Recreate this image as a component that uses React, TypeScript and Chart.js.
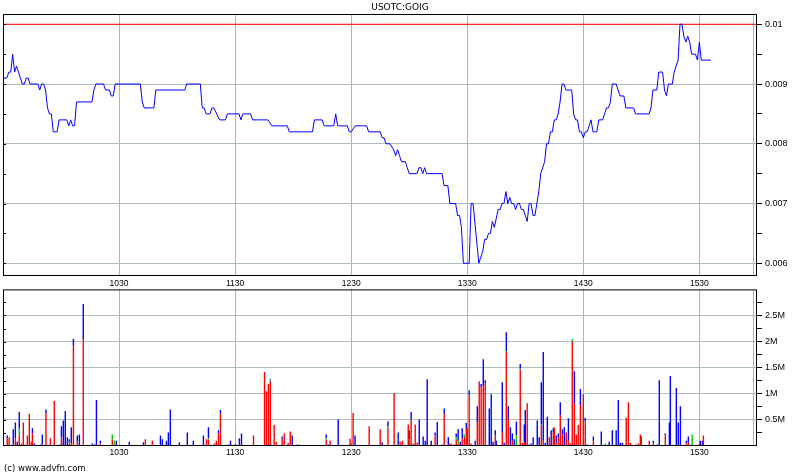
import React, { useEffect, useRef } from "react";
import { Chart, registerables } from "chart.js";

Chart.register(...registerables);

const TITLE = "USOTC:GOIG";
const COPYRIGHT = "(c) www.advfn.com";

// time axis: minutes after 09:30
const sessionEnd = 389.8;
const closeMinute = 388.2;
const timeTicks = [60, 120, 180, 240, 300, 360];
const timeLabels = ["1030", "1130", "1230", "1330", "1430", "1530"];

// price series (minutes after 09:30, price)
const priceTimes = [
  0, 2, 3, 4, 5, 6, 7, 8, 10, 11, 12, 13, 14, 18, 19, 20, 21, 22, 23, 24, 25, 26, 28, 29, 33, 34, 35, 36, 37, 38,
  46, 47, 48, 52, 53, 55, 56, 57, 58, 71, 72, 73, 78, 79, 94, 95, 102, 103, 104, 105, 107, 108, 109, 112, 115, 116,
  122, 123, 124, 128, 129, 137, 139, 147, 148, 160, 161, 165, 166, 171, 172, 173, 178, 179, 180, 182, 188, 189, 195,
  196, 197, 198, 200, 202, 203, 204, 205, 206, 208, 209, 210, 214, 215, 216, 217, 218, 219, 227, 228, 230, 231, 234,
  235, 236, 237, 238, 241, 242, 243, 246, 248, 249, 250, 251, 252, 253, 254, 256, 257, 258, 259, 260, 261, 262, 263,
  264, 265, 266, 267, 268, 269, 271, 272, 273, 274, 275, 276, 277, 278, 280, 281, 282, 283, 284, 285, 286, 287, 288,
  289, 290, 291, 294, 295, 296, 297, 298, 299, 300, 301, 302, 303, 304, 305, 307, 308, 310, 312, 313, 314, 315, 317,
  318, 319, 321, 322, 326, 327, 334, 335, 336, 338, 339, 341, 342, 343, 344, 346, 347, 349, 350, 351, 352, 353, 354,
  355, 356, 358, 359, 360, 361, 366,
];
const priceValues = [
  0.0091, 0.0091, 0.0092, 0.0092, 0.0095, 0.0092, 0.0093, 0.0092, 0.009, 0.009, 0.0091, 0.0091, 0.009, 0.009, 0.0089,
  0.009, 0.009, 0.0089, 0.0086, 0.0085, 0.0085, 0.0082, 0.0082, 0.0084, 0.0084, 0.0083, 0.0084, 0.0083, 0.0083, 0.0087,
  0.0087, 0.0089, 0.009, 0.009, 0.0089, 0.0089, 0.0088, 0.0088, 0.009, 0.009, 0.0087, 0.0086, 0.0086, 0.0089, 0.0089,
  0.009, 0.009, 0.0086, 0.0086, 0.0085, 0.0085, 0.0086, 0.0086, 0.0084, 0.0084, 0.0085, 0.0085, 0.0084, 0.0085, 0.0085,
  0.0084, 0.0084, 0.0083, 0.0083, 0.0082, 0.0082, 0.0084, 0.0084, 0.0083, 0.0083, 0.0085, 0.0083, 0.0083, 0.0082,
  0.0082, 0.0083, 0.0083, 0.0082, 0.0082, 0.0081, 0.0081, 0.008, 0.008, 0.0079, 0.0078, 0.0079, 0.0078, 0.0077, 0.0077,
  0.0076, 0.0075, 0.0075, 0.0076, 0.0076, 0.0075, 0.0076, 0.0075, 0.0075, 0.0073, 0.0073, 0.007, 0.007, 0.0068, 0.0068,
  0.0066, 0.006, 0.006, 0.007, 0.007, 0.006, 0.0062, 0.0064, 0.0064, 0.0065, 0.0065, 0.0067, 0.0066, 0.0069, 0.0069,
  0.007, 0.007, 0.0072, 0.007, 0.0071, 0.007, 0.007, 0.0069, 0.007, 0.007, 0.0069, 0.0069, 0.0067, 0.007, 0.007, 0.0068,
  0.0068, 0.007, 0.0072, 0.0075, 0.0077, 0.008, 0.008, 0.0082, 0.0082, 0.0084, 0.0084, 0.0085, 0.0087, 0.009, 0.009,
  0.0089, 0.0089, 0.0085, 0.0084, 0.0084, 0.0082, 0.0082, 0.0081, 0.0082, 0.0082, 0.0083, 0.0084, 0.0082, 0.0082,
  0.0084, 0.0084, 0.0086, 0.0086, 0.0087, 0.009, 0.009, 0.0089, 0.0088, 0.0088, 0.0086, 0.0086, 0.0085, 0.0085, 0.0086,
  0.0089, 0.0089, 0.0092, 0.0092, 0.0089, 0.0088, 0.009, 0.009, 0.0092, 0.0094, 0.01, 0.01, 0.0098, 0.0097, 0.0098,
  0.0097, 0.0095, 0.0095, 0.0094, 0.0097, 0.0094, 0.0094,
];
const referencePrice = 0.01;

const priceMin = 0.005787;
const priceMax = 0.010172;
const priceMajorTicks = [0.006, 0.007, 0.008, 0.009, 0.01];
const priceMinorTicks = [0.0065, 0.0075, 0.0085, 0.0095];
const priceLabels = ["0.006", "0.007", "0.008", "0.009", "0.01"];

// volume bars (minutes after 09:30, millions of shares per colour)
const volTimes = [
  0, 2.2, 3.2, 5.3, 6.4, 7.4, 8.4, 9.5, 10.5, 11.5, 12.6, 13.6, 14.6, 15.2, 16.2, 19.3, 20.3, 22.2, 24.5, 26.5, 29.6,
  30.2, 31.2, 32.2, 33.3, 34.3, 35.3, 36.4, 38.4, 39.5, 41.5, 46.2, 47.2, 48.3, 50.3, 56.5, 57.6, 58.6, 65.3, 72.6,
  73.6, 77.2, 81.4, 82.4, 84.5, 85.5, 86.5, 91.2, 95.3, 98.4, 103.6, 105.2, 106.2, 109.3, 110.3, 111.4, 112.4, 116.5,
  117.6, 120.2, 122.2, 123.3, 129.5, 135.2, 136.2, 137.2, 138.2, 140.2, 141.2, 144.3, 145.4, 147.4, 148.5, 149.5,
  152.1, 153.1, 167.1, 168.1, 169.1, 173.3, 179.4, 179.9, 181.0, 182.0, 189.3, 195.0, 196.0, 199.0, 202.2, 203.3,
  204.3, 205.3, 206.4, 209.5, 210.0, 211.0, 212.1, 213.1, 214.1, 215.2, 217.2, 218.3, 219.3, 221.4, 223.4, 224.5,
  227.1, 228.1, 230.2, 230.7, 231.7, 233.3, 234.3, 235.3, 236.4, 237.4, 238.5, 239.5, 240.0, 241.0, 242.0, 244.1,
  245.2, 246.2, 247.2, 248.3, 249.3, 251.4, 252.4, 253.4, 254.5, 255.0, 258.1, 259.1, 260.2, 261.2, 262.3, 263.3,
  264.3, 265.4, 267.4, 268.5, 269.5, 270.0, 271.0, 272.0, 273.0, 274.1, 276.2, 277.2, 278.3, 279.3, 280.3, 281.4,
  282.4, 283.4, 284.5, 285.0, 286.0, 287.1, 288.1, 289.2, 290.2, 291.2, 292.3, 293.3, 294.3, 295.4, 296.4, 297.4,
  298.5, 300.0, 301.0, 302.0, 305.2, 309.3, 311.4, 313.4, 315.0, 317.0, 318.1, 319.1, 320.2, 322.2, 323.3, 324.3,
  327.4, 328.5, 329.5, 330.0, 334.1, 336.2, 338.3, 339.3, 342.4, 344.5, 345.0, 348.1, 349.1, 350.2, 353.3, 354.3,
  356.3, 360.0, 360.5, 361.6, 362.1,
];
const volRed = [
  0.12, 0.15, 0.17, 0, 0.15, 0, 0.2, 0.05, 0.45, 0.03, 0.2, 0.62, 0.08, 0.24, 0, 0, 0.04, 0.63, 0.15, 0.86, 0,
  0.17, 0, 0, 0, 0.05, 0.05, 1.92, 0.09, 0, 2.05, 0, 0, 0, 0.05, 0.12, 0, 0, 0, 0.02,
  0.13, 0.1, 0, 0, 0, 0, 0, 0.02, 0, 0, 0, 0.13, 0.12, 0.05, 0.1, 0.24, 0.62, 0,
  0, 0, 0, 0, 0.2, 1.42, 1.05, 1.19, 1.24, 0.4, 0.08, 0.14, 0.24, 0.06, 0.28, 0,
  0.03, 0.03, 0.12, 0, 0.1, 0, 0.14, 0.05, 0.63, 0, 0.38, 0.32, 0, 0.35, 1.01, 0.02,
  0.03, 0.08, 0.1, 0.41, 0.1, 0.51, 0.05, 0.41, 0.07, 0, 0, 0, 0, 0, 0.2, 0,
  0, 0.62, 0, 0.05, 0.05, 0.03, 0.12, 0.04, 0, 0.14, 0.17, 0.32, 0.34, 0.97, 0.05, 0,
  0.45, 1.24, 1.12, 1.14, 1.2, 0, 0, 0, 0.2, 0, 0.26, 0, 1.8, 0.51, 0, 0.1,
  0, 0, 1.46, 0.06, 0.07, 0, 0.82, 0, 0, 0, 0, 0, 0.4, 0.1, 0, 0,
  0.17, 0, 0.26, 0.36, 0.05, 0.17, 0.59, 0.22, 0, 0.26, 0.1, 0.05, 2.0, 0.82, 0.22, 0.4,
  0.78, 0.99, 0.47, 0, 0.1, 0, 0, 0, 0, 0, 0, 0, 0, 0.54, 0.84, 0.06,
  0.03, 0.05, 0.22, 0.18, 0.1, 0.05, 0, 0, 0.2, 0, 0, 0, 0, 0, 0.05, 0.06,
  0, 0.05, 0, 0, 0.2,
];
const volGreen = [
  0, 0, 0, 0, 0, 0, 0.13, 0, 0, 0, 0, 0, 0, 0, 0, 0, 0, 0, 0, 0, 0,
  0, 0, 0, 0, 0.03, 0, 0, 0, 0, 0, 0, 0, 0, 0, 0.1, 0.1, 0, 0, 0,
  0, 0, 0, 0, 0, 0, 0, 0, 0, 0, 0, 0, 0.03, 0, 0, 0, 0, 0,
  0, 0, 0, 0, 0, 0, 0, 0, 0.02, 0, 0, 0, 0, 0, 0, 0,
  0, 0, 0.03, 0, 0, 0, 0, 0, 0, 0, 0, 0, 0, 0.02, 0, 0.01,
  0, 0, 0, 0, 0.03, 0, 0, 0, 0, 0, 0, 0, 0, 0, 0, 0,
  0, 0, 0, 0, 0, 0, 0.05, 0.06, 0, 0, 0.05, 0, 0, 0, 0, 0,
  0, 0, 0, 0, 0, 0, 0, 0, 0, 0, 0, 0, 0.02, 0, 0, 0,
  0, 0.2, 0.02, 0, 0, 0, 0, 0, 0, 0, 0, 0, 0.02, 0, 0, 0,
  0, 0, 0, 0, 0, 0, 0, 0, 0, 0, 0, 0, 0.05, 0, 0, 0,
  0, 0, 0, 0, 0, 0, 0.05, 0, 0, 0, 0, 0.02, 0, 0, 0, 0,
  0, 0, 0, 0, 0, 0, 0, 0, 0, 0, 0, 0.02, 0, 0, 0, 0,
  0.22, 0, 0, 0, 0,
];
const volBlue = [
  0.29, 0.05, 0, 0.32, 0.3, 0.08, 0.32, 0, 0, 0, 0, 0, 0, 0.1, 0.05, 0.03, 0.18, 0.07, 0, 0, 0.03,
  0.21, 0.49, 0.67, 0.17, 0.05, 0.31, 0.13, 0.11, 0.22, 0.67, 0.05, 0.03, 0.88, 0.05, 0, 0, 0.1, 0.08, 0.05,
  0, 0, 0.2, 0.13, 0.1, 0.26, 0.7, 0.05, 0.26, 0.1, 0.2, 0, 0.21, 0, 0, 0.06, 0.07, 0.03,
  0.1, 0.04, 0.15, 0.24, 0, 0, 0, 0, 0.02, 0, 0, 0.04, 0, 0, 0, 0.2,
  0, 0, 0.07, 0.03, 0, 0.51, 0, 0, 0, 0.2, 0, 0, 0.07, 0.1, 0, 0,
  0.23, 0, 0, 0, 0.17, 0.14, 0, 0, 0, 0.51, 0.18, 0.1, 1.28, 0.1, 0.06, 0.46,
  0.03, 0.1, 0.17, 0, 0, 0, 0.07, 0.22, 0.08, 0.2, 0, 0.12, 0, 0.1, 0, 0.1,
  0.31, 0, 0.07, 0.52, 0.06, 0.72, 0.99, 0.08, 0.1, 0.1, 0.96, 0.06, 0.36, 0.25, 0.36, 0.14,
  0.13, 0.27, 0.09, 0, 0.34, 0.69, 0, 0.03, 0.05, 0.17, 0.49, 0.17, 0.8, 1.7, 0.06, 0.56,
  0, 0.3, 0.08, 0, 0.15, 0.07, 0.25, 0.1, 0.36, 0, 0.43, 0, 0, 0.61, 0, 0,
  0.31, 0, 0.07, 0.03, 0.08, 0.28, 0, 0.08, 0.3, 0.3, 0.88, 0.04, 0.06, 0, 0, 0,
  0, 0, 0, 0, 0, 0.05, 0.03, 1.26, 0.04, 0.45, 1.34, 1.09, 0.45, 0.76, 0.05, 0.12,
  0, 0, 0.1, 0.1, 0,
];

const volMax = 3;
const volMajorTicks = [0.5, 1, 1.5, 2, 2.5];
const volMinorTicks = [0.25, 0.75, 1.25, 1.75, 2.25, 2.75];
const volLabels = ["0.5M", "1M", "1.5M", "2M", "2.5M"];

const GRID_V = "#b4b4b4";
const GRID_H = "#aebcc4";
const TICK_FONT_X = { family: "Liberation Sans, Arial, sans-serif", size: 8.5 };
const TICK_FONT_Y = { family: "Liberation Sans, Arial, sans-serif", size: 9 };

const framePlugin = {
  id: "frame",
  afterDraw(chart: any) {
    const { ctx, chartArea: a } = chart;
    const ys = chart.scales.y;
    ctx.save();
    ctx.strokeStyle = "#000";
    ctx.lineWidth = 1;
    ctx.strokeRect(a.left + 0.5, a.top + 0.5, a.right - a.left - 1, a.bottom - a.top - 1);
    ctx.beginPath();
    ys.ticks.forEach((t: any) => {
      const py = Math.round(ys.getPixelForValue(t.value)) + 0.5;
      ctx.moveTo(a.left, py);
      ctx.lineTo(a.left + 3, py);
    });
    ctx.stroke();
    ctx.restore();
  },
};

const titlePlugin = {
  id: "titleText",
  afterDraw(chart: any) {
    const { ctx } = chart;
    ctx.save();
    ctx.font = "9px 'DejaVu Sans', sans-serif";
    ctx.fillStyle = "#000";
    ctx.textAlign = "center";
    ctx.textBaseline = "middle";
    ctx.fillText(TITLE, 400, 8);
    ctx.restore();
  },
};

const BOTTOM_CANVAS_TOP = 281;

const copyrightPlugin = {
  id: "copyright",
  afterDraw(chart: any) {
    const { ctx } = chart;
    ctx.save();
    ctx.font = "8.5px 'DejaVu Sans', sans-serif";
    ctx.fillStyle = "#000";
    ctx.textAlign = "left";
    ctx.textBaseline = "middle";
    ctx.fillText(COPYRIGHT, 4, 468.5 - BOTTOM_CANVAS_TOP);
    ctx.restore();
  },
};

function timeAxis(height: number, padding: number) {
  return {
    type: "linear" as const,
    min: 0,
    max: sessionEnd,
    offset: false,
    afterBuildTicks: (s: any) => {
      s.ticks = [...timeTicks, closeMinute].map((v) => ({ value: v }));
    },
    afterFit: (s: any) => {
      s.height = height;
    },
    grid: { color: GRID_V, drawTicks: false, offset: false },
    border: { display: false },
    ticks: {
      autoSkip: false,
      maxRotation: 0,
      padding,
      font: TICK_FONT_X,
      color: "#000",
      callback: (v: any) => {
        const i = timeTicks.indexOf(v);
        return i >= 0 ? timeLabels[i] : "";
      },
    },
  };
}

function valueAxis(min: number, max: number, majors: number[], minors: number[], labels: string[]) {
  return {
    position: "right" as const,
    min,
    max,
    afterBuildTicks: (s: any) => {
      s.ticks = [...majors, ...minors].sort((a, b) => a - b).map((v) => ({ value: v }));
    },
    afterFit: (s: any) => {
      s.width = 43;
    },
    grid: {
      color: (c: any) => (c.tick && majors.includes(c.tick.value) ? GRID_H : "rgba(0,0,0,0)"),
      tickColor: "#000",
      tickLength: 5,
    },
    border: { display: false },
    ticks: {
      autoSkip: false,
      padding: 3,
      font: TICK_FONT_Y,
      color: "#000",
      callback: (v: any) => {
        const i = majors.indexOf(v);
        return i >= 0 ? labels[i] : "";
      },
    },
  };
}

export default function App() {
  const topRef = useRef<HTMLCanvasElement>(null);
  const botRef = useRef<HTMLCanvasElement>(null);

  useEffect(() => {
    document.body.style.margin = "0";
    const priceChart = new Chart(topRef.current!, {
      type: "line",
      data: {
        datasets: [
          {
            data: priceTimes.map((t, i) => ({ x: t, y: priceValues[i] })),
            borderColor: "#0000ff",
            borderWidth: 1,
            pointRadius: 0,
            tension: 0,
          },
          {
            data: [
              { x: 0, y: referencePrice },
              { x: sessionEnd, y: referencePrice },
            ],
            borderColor: "#ff0000",
            borderWidth: 1,
            pointRadius: 0,
          },
        ],
      },
      options: {
        responsive: false,
        animation: false,
        devicePixelRatio: 1,
        layout: { padding: { left: 3, top: 14, right: 0, bottom: 0 } },
        plugins: { legend: { display: false }, tooltip: { enabled: false }, title: { display: false } },
        scales: {
          x: timeAxis(14, 3) as any,
          y: valueAxis(priceMin, priceMax, priceMajorTicks, priceMinorTicks, priceLabels) as any,
        },
      },
      plugins: [framePlugin, titlePlugin],
    });

    const mk = (vals: number[]) => volTimes.map((t, i) => ({ x: t, y: vals[i] }));
    const barStyle = { barThickness: 1.4, inflateAmount: 0, borderWidth: 0, stack: "v" };
    const volChart = new Chart(botRef.current!, {
      type: "bar",
      data: {
        datasets: [
          { data: mk(volRed), backgroundColor: "#ff0000", ...barStyle },
          { data: mk(volGreen), backgroundColor: "#00c800", ...barStyle },
          { data: mk(volBlue), backgroundColor: "#0000ff", ...barStyle },
        ] as any,
      },
      options: {
        responsive: false,
        animation: false,
        devicePixelRatio: 1,
        layout: { padding: { left: 3, top: 2, right: 0, bottom: 0 } },
        plugins: { legend: { display: false }, tooltip: { enabled: false }, title: { display: false } },
        scales: {
          x: { ...(timeAxis(29, 2) as any), stacked: true },
          y: { ...(valueAxis(0, volMax, volMajorTicks, volMinorTicks, volLabels) as any), stacked: true },
        },
      },
      plugins: [framePlugin, copyrightPlugin],
    });

    return () => {
      priceChart.destroy();
      volChart.destroy();
    };
  }, []);

  return (
    <div
      style={{
        position: "fixed",
        left: 0,
        top: 0,
        width: 800,
        height: 475,
        background: "#fff",
        overflow: "hidden",
      }}
    >
      <canvas ref={topRef} width={800} height={290} style={{ position: "absolute", left: 0, top: 0 }} />
      <canvas
        ref={botRef}
        width={800}
        height={475 - BOTTOM_CANVAS_TOP}
        style={{ position: "absolute", left: 0, top: BOTTOM_CANVAS_TOP }}
      />
    </div>
  );
}
